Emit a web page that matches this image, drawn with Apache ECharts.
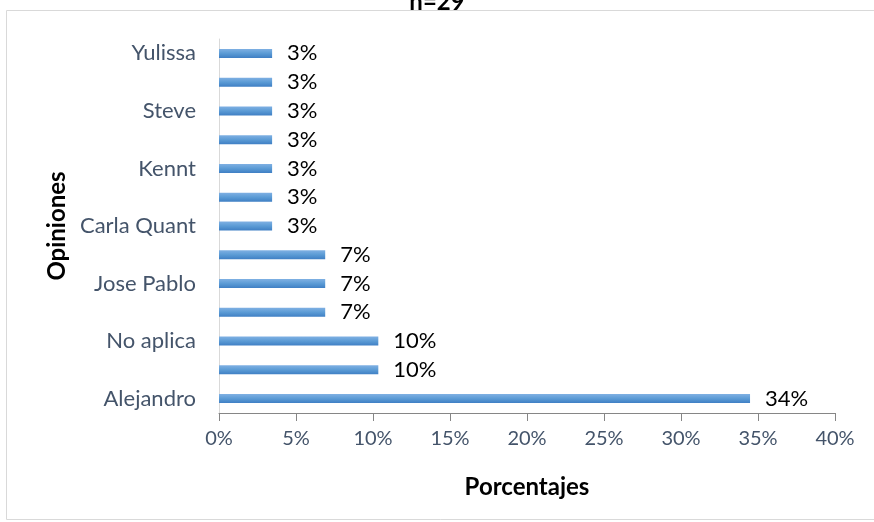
<!DOCTYPE html>
<html><head><meta charset="utf-8">
<script src="https://cdn.jsdelivr.net/npm/echarts@6/dist/echarts.min.js"></script>
<style>html,body{margin:0;padding:0;background:#fff}#c{width:874px;height:522px}</style>
</head><body><div id="c"></div>
<script>
const categories = ["Alejandro","Otro A","No aplica","Otro B","Jose Pablo","Otro C","Carla Quant","Otro D","Kennt","Otro E","Steve","Otro F","Yulissa"];
const counts = [10,3,3,2,2,2,1,1,1,1,1,1,1];
const total = 29;
const values = counts.map(c => c / total * 100);
const xTicks = [0,5,10,15,20,25,30,35,40];

const chart = echarts.init(document.getElementById('c'));
const FONT = 'Lato';
chart.setOption({
  animation:false,
  title:{text:'n=29',left:'center',top:-15,textStyle:{fontFamily:FONT,fontWeight:'bold',fontSize:24,color:'#000'}},
  graphic:[{type:'rect',shape:{x:6.5,y:10.5,width:880,height:509},style:{fill:'none',stroke:'#d9d9d9',lineWidth:1},z:-1}],
  grid:{left:219,right:39,top:39,bottom:109},
  xAxis:{type:'value',min:0,max:40,interval:5,
    name:'Porcentajes',nameLocation:'middle',nameGap:62,
    nameTextStyle:{fontFamily:FONT,fontWeight:'bold',fontSize:24,color:'#000'},
    axisLine:{show:true,lineStyle:{color:'#868686'}},
    axisTick:{show:true,length:8,lineStyle:{color:'#868686'}},
    splitLine:{show:false},
    axisLabel:{fontFamily:FONT,fontSize:20,color:'#44546a',margin:16,formatter:v=>v+'%'}},
  yAxis:{type:'category',data:categories,
    name:'Opiniones',nameLocation:'middle',nameGap:146,nameRotate:90,
    nameTextStyle:{fontFamily:FONT,fontWeight:'bold',fontSize:24,color:'#000'},
    axisLine:{show:true,lineStyle:{color:'#d9d9d9'}},
    axisTick:{show:false},
    axisLabel:{interval:1,fontFamily:FONT,fontSize:22,color:'#44546a',margin:23}},
  series:[{type:'bar',data:values,barWidth:9,
    itemStyle:{color:new echarts.graphic.LinearGradient(0,0,0,1,[{offset:0,color:'#7fb0e3'},{offset:0.5,color:'#5b9bd5'},{offset:1,color:'#3f7fc4'}])},
    label:{show:true,position:'right',distance:15,fontFamily:FONT,fontSize:22,color:'#000',
      formatter:p=>Math.round(p.value)+'%'}}]
});
</script></body></html>
